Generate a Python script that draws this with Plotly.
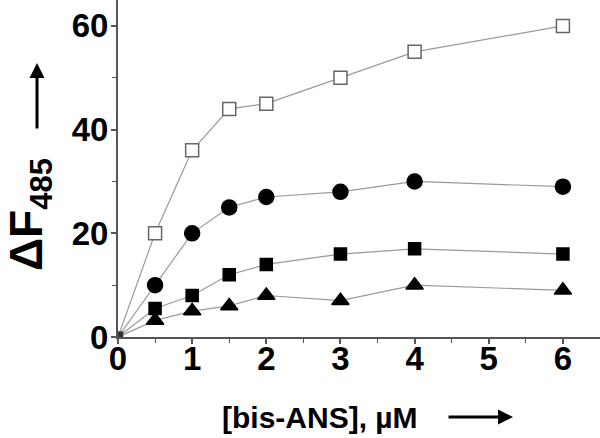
import plotly.graph_objects as go

x_vals = [0, 0.5, 1, 1.5, 2, 3, 4, 6]
open_sq = [0, 20, 36, 44, 45, 50, 55, 60]
circles = [0, 10, 20, 25, 27, 28, 30, 29]
squares = [0, 5.5, 8, 12, 14, 16, 17, 16]
triangles = [0, 3.2, 5, 6, 8, 7, 10, 9]

fig = go.Figure()

def add(y, symbol, fill, size, lc):
    fig.add_trace(go.Scatter(
        x=x_vals[1:], y=y[1:], mode="markers",
        marker=dict(symbol=symbol, size=size, color=fill,
                    line=dict(color=lc, width=1.5)),
        showlegend=False, cliponaxis=False))

def add_line(y):
    fig.add_trace(go.Scatter(
        x=x_vals, y=y, mode="lines",
        line=dict(color="#9a9a9a", width=1.2),
        showlegend=False, cliponaxis=False))

for s in [triangles, squares, circles, open_sq]:
    add_line(s)

add(triangles, "triangle-up", "black", 15, "black")
add(squares, "square", "black", 12, "black")
add(circles, "circle", "black", 15, "black")
add(open_sq, "square", "white", 13, "#666666")
fig.add_trace(go.Scatter(x=[0.03], y=[0.5], mode="markers",
                         marker=dict(symbol="square", size=6, color="#333333"),
                         showlegend=False, cliponaxis=False))

tickfont = dict(family="Liberation Sans, Arial", size=33, color="black")

fig.update_layout(
    width=600, height=438,
    margin=dict(l=118, r=0, t=0, b=101),
    plot_bgcolor="white", paper_bgcolor="white",
    xaxis=dict(range=[0, 6.5], showline=True, linecolor="#555555", linewidth=2,
               automargin=False, ticklabelstandoff=-14,
               tickmode="array", tickvals=[0, 1, 2, 3, 4, 5, 6],
               ticktext=["<b>%d</b>" % v for v in range(7)],
               ticks="outside", ticklen=5, tickwidth=1.5, tickcolor="#555555",
               minor=dict(tickvals=[0.5, 1.5, 2.5, 3.5, 4.5, 5.5, 6.5], ticks="outside",
                          ticklen=4, tickcolor="#555555", tickwidth=1.2),
               showgrid=False, zeroline=False, tickfont=tickfont),
    yaxis=dict(range=[0, 65], showline=True, linecolor="#555555", linewidth=2,
               automargin=False, ticklabelstandoff=-4,
               tickmode="array", tickvals=[0, 20, 40, 60],
               ticktext=["<b>%d</b>" % v for v in [0, 20, 40, 60]],
               ticks="outside", ticklen=5, tickwidth=1.5, tickcolor="#555555",
               minor=dict(tickvals=[10, 30, 50], ticks="outside",
                          ticklen=4, tickcolor="#555555", tickwidth=1.2),
               showgrid=False, zeroline=False, tickfont=tickfont),
)

fig.add_annotation(xref="paper", yref="paper", x=(30-118)/482, y=(337-215)/337,
                   xanchor="center", yanchor="middle",
                   text="<b>ΔF<sub><span style='font-size:31px'>485</span></sub></b>",
                   textangle=-90, showarrow=False,
                   font=dict(family="Liberation Sans, Arial", size=46, color="black"))
fig.add_annotation(xref="paper", yref="paper", x=(320-118)/482, y=-(417-337)/337,
                   xanchor="center", yanchor="middle",
                   text="<b>[bis-ANS], µM</b>", showarrow=False,
                   font=dict(family="Liberation Sans, Arial", size=30, color="black"))
fig.add_annotation(xref="paper", yref="paper", x=(37-118)/482, y=(337-63)/337,
                   ax=0, ay=67, text="", showarrow=True, arrowhead=2,
                   arrowsize=1, arrowwidth=3, arrowcolor="black")
fig.add_annotation(xref="paper", yref="paper", x=(513-118)/482, y=-(417-337)/337,
                   ax=-66, ay=0, text="", showarrow=True, arrowhead=2,
                   arrowsize=1, arrowwidth=3, arrowcolor="black")

fig.write_html("out.html", config={"displayModeBar": False},
               post_script="document.body.style.margin='0';document.body.style.overflow='hidden';")
